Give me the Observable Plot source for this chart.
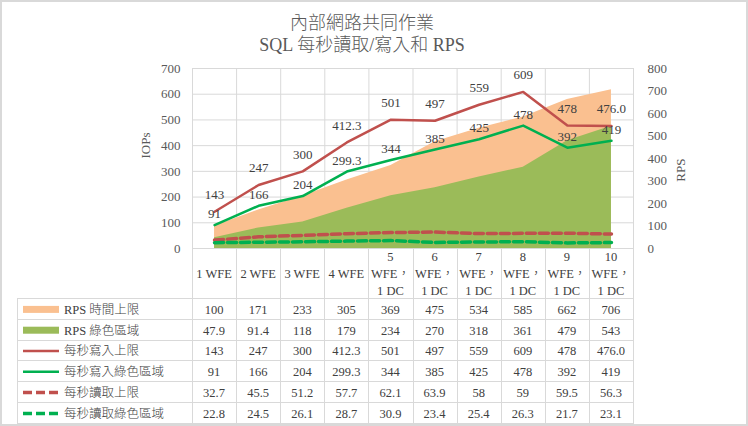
<!DOCTYPE html>
<html><head><meta charset="utf-8">
<script src="https://cdn.jsdelivr.net/npm/d3@7"></script>
<script src="https://cdn.jsdelivr.net/npm/@observablehq/plot@0.6"></script>
<style>
body{margin:0;background:#fff;}
#frame{position:relative;width:748px;height:426px;overflow:hidden;background:#fff;font-family:"Liberation Serif","Noto Sans CJK TC",serif;font-weight:300;}
#frame text{font-weight:300;}
#border{position:absolute;left:0;top:0;width:748px;height:426px;box-sizing:border-box;border:2px solid #d9d9d9;pointer-events:none;}
#title{position:absolute;left:0;top:12px;width:724px;text-align:center;font-size:18px;line-height:22px;color:#595959;}
#chart{position:absolute;left:0;top:0;}
#table{position:absolute;left:0;top:248px;}
</style></head><body>
<div id="frame"><div id="chart"></div><svg id="table" width="748" height="178"></svg><div id="title"></div><div id="border"></div></div>
<script>
const titleLines = ["內部網路共同作業", "SQL 每秒讀取/寫入和 RPS"];
const categories = ["1 WFE","2 WFE","3 WFE","4 WFE","5 WFE，1 DC","6 WFE，1 DC","7 WFE，1 DC","8 WFE，1 DC","9 WFE，1 DC","10 WFE，1 DC"];
const rpsMax = [100,171,233,305,369,475,534,585,662,706];
const rpsGreen = [47.9,91.4,118,179,234,270,318,361,479,543];
const writeMax = [143,247,300,412.3,501,497,559,609,478,476.0];
const writeMaxLabels = ["143","247","300","412.3","501","497","559","609","478","476.0"];
const writeGreen = [91,166,204,299.3,344,385,425,478,392,419];
const readMax = [32.7,45.5,51.2,57.7,62.1,63.9,58,59,59.5,56.3];
const readGreen = [22.8,24.5,26.1,28.7,30.9,23.4,25.4,26.3,21.7,23.1];
const iopsTicks = [0,100,200,300,400,500,600,700];
const rpsTicks = [0,100,200,300,400,500,600,700,800];
const leftTitle = "IOPs";
const rightTitle = "RPS";

const series = [
  {name:"RPS 時間上限", labels: rpsMax.map(String), kind:"area", color:"#fac090"},
  {name:"RPS 綠色區域", labels: rpsGreen.map(String), kind:"area", color:"#9bbb59"},
  {name:"每秒寫入上限", labels: writeMaxLabels, kind:"line", color:"#c0504d"},
  {name:"每秒寫入綠色區域", labels: writeGreen.map(String), kind:"line", color:"#00b050"},
  {name:"每秒讀取上限", labels: readMax.map(String), kind:"dash", color:"#c0504d"},
  {name:"每秒讀取綠色區域", labels: readGreen.map(String), kind:"dash", color:"#00b050"}
];

document.getElementById("title").innerHTML = titleLines.join("<br>");

const k = d3.max(iopsTicks) / d3.max(rpsTicks);
const n = categories.length;
const rows = categories.map((c, i) => ({
  i, c,
  rpsMax: rpsMax[i] * k, rpsGreen: rpsGreen[i] * k,
  writeMax: writeMax[i], writeLabel: writeMaxLabels[i],
  writeGreen: writeGreen[i], readMax: readMax[i], readGreen: readGreen[i]
}));
const bounds = d3.range(n + 1).map(j => j - 0.5);
const font = '"Liberation Serif","Noto Sans CJK TC",serif';

const chart = Plot.plot({
  width: 748, height: 250,
  marginTop: 68, marginBottom: 2, marginLeft: 192, marginRight: 115,
  style: {fontFamily: font, fontSize: "13px", color: "#595959", background: "transparent", overflow: "visible"},
  x: {type: "linear", domain: [-0.5, n - 0.5], axis: null},
  y: {domain: [0, d3.max(iopsTicks)], axis: null},
  marks: [
    Plot.ruleY(iopsTicks, {stroke: "#d9d9d9"}),
    Plot.ruleX(bounds, {stroke: "#d9d9d9"}),
    Plot.areaY(rows, {x: "i", y1: 0, y2: "rpsMax", fill: series[0].color}),
    Plot.areaY(rows, {x: "i", y1: 0, y2: "rpsGreen", fill: series[1].color}),
    Plot.lineY(rows, {x: "i", y: "readMax", stroke: series[4].color, strokeWidth: 3.5, strokeDasharray: "9,4"}),
    Plot.lineY(rows, {x: "i", y: "readGreen", stroke: series[5].color, strokeWidth: 3.5, strokeDasharray: "9,4"}),
    Plot.lineY(rows, {x: "i", y: "writeMax", stroke: series[2].color, strokeWidth: 2.5}),
    Plot.lineY(rows, {x: "i", y: "writeGreen", stroke: series[3].color, strokeWidth: 2.5}),
    Plot.text(rows, {x: "i", y: "writeMax", text: "writeLabel", dy: -17, fill: "#404040"}),
    Plot.text(rows, {x: "i", y: "writeGreen", text: d => String(d.writeGreen), dy: -11, fill: "#404040"}),
    Plot.axisY(iopsTicks, {anchor: "left", tickSize: 0, tickPadding: 12, label: null}),
    Plot.axisY(rpsTicks.map(v => v * k), {anchor: "right", tickSize: 0, tickPadding: 14, label: null, tickFormat: d => String(Math.round(d / k))}),
    Plot.text([leftTitle], {frameAnchor: "left", text: d => d, rotate: -90, dx: -47}),
    Plot.text([rightTitle], {frameAnchor: "right", text: d => d, rotate: -90, dx: 47})
  ]
});
document.getElementById("chart").appendChild(chart);

// data table below the chart, aligned with the chart's x scale
const xs = chart.scale("x");
const tbl = d3.select("#table").style("font-family", font).style("font-size", "12.5px");
const headerH = 51, rowH = 20.8, left = 17;
const right = xs.apply(n - 0.5);
const bottom = headerH + rowH * series.length;
const grid = "#d9d9d9";
bounds.forEach(b => {
  const x = Math.round(xs.apply(b)) + 0.5;
  tbl.append("line").attr("x1", x).attr("x2", x).attr("y1", 0).attr("y2", bottom).attr("stroke", grid);
});
tbl.append("line").attr("x1", left + 0.5).attr("x2", left + 0.5).attr("y1", headerH).attr("y2", bottom).attr("stroke", grid);
d3.range(series.length + 1).forEach(r => {
  const y = Math.round(headerH + r * rowH) - 0.5;
  tbl.append("line").attr("x1", left).attr("x2", right + 1).attr("y1", y).attr("y2", y).attr("stroke", grid);
});
// header
categories.forEach((c, i) => {
  const m = c.match(/^(\S+) (\S+，)(.+)$/);
  const lines = m ? [m[1], m[2], m[3]] : [c];
  const t = tbl.append("text").attr("x", xs.apply(i)).attr("text-anchor", "middle").attr("fill", "#404040");
  lines.forEach((ln, j) => {
    t.append("tspan").attr("x", xs.apply(i)).attr("y", headerH / 2 + (j - (lines.length - 1) / 2) * 17).attr("dy", "0.35em").text(ln);
  });
});
// rows
series.forEach((s, r) => {
  const cy = headerH + r * rowH + rowH / 2;
  if (s.kind === "area") {
    tbl.append("rect").attr("x", 23).attr("y", cy - 3.5).attr("width", 36).attr("height", 7).attr("fill", s.color);
  } else {
    tbl.append("line").attr("x1", 23).attr("x2", 59).attr("y1", cy).attr("y2", cy)
      .attr("stroke", s.color).attr("stroke-width", s.kind === "dash" ? 3.5 : 2.5)
      .attr("stroke-dasharray", s.kind === "dash" ? "9,4" : null);
  }
  tbl.append("text").attr("x", 64).attr("y", cy).attr("dy", "0.35em").attr("fill", "#404040").text(s.name);
  s.labels.forEach((v, i) => {
    tbl.append("text").attr("x", xs.apply(i)).attr("y", cy).attr("dy", "0.35em").attr("text-anchor", "middle").attr("fill", "#404040").text(v);
  });
});
</script>
</body></html>
